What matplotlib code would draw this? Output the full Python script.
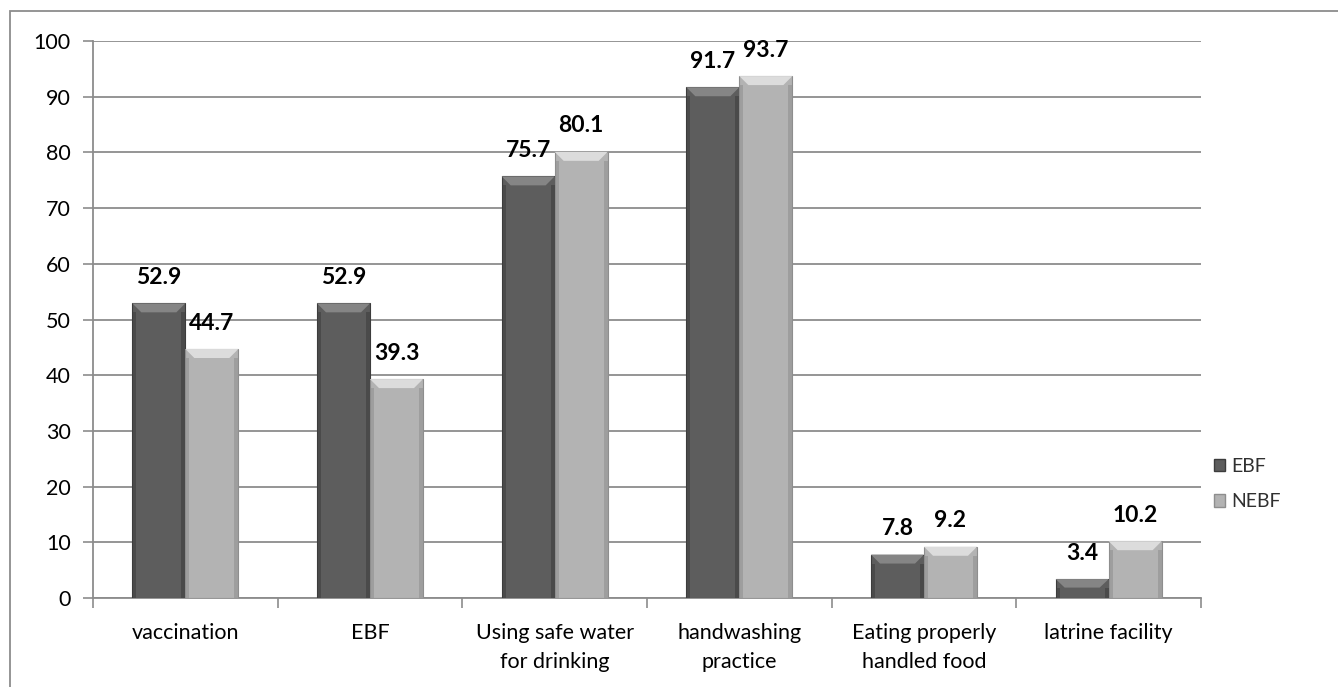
import matplotlib
matplotlib.use("Agg")
import matplotlib.pyplot as plt
from matplotlib.patches import Polygon, Rectangle, Patch
import numpy as np

plt.rcParams['font.family'] = ['Lato', 'DejaVu Sans']

categories = ["vaccination", "EBF", "Using safe water\nfor drinking",
              "handwashing\npractice", "Eating properly\nhandled food",
              "latrine facility"]
ebf = [52.9, 52.9, 75.7, 91.7, 7.8, 3.4]
nebf = [44.7, 39.3, 80.1, 93.7, 9.2, 10.2]
series_names = ["EBF", "NEBF"]
yticks = [0, 10, 20, 30, 40, 50, 60, 70, 80, 90, 100]

W, H = 1338, 687
fig = plt.figure(figsize=(W / 100, H / 100), dpi=100)
ax = fig.add_axes([93 / W, (H - 598) / H, 1108 / W, 557 / H])

# outer chart frame
fig.patches.append(Rectangle((10 / W, -0.05), 1.2, (H - 11) / H + 0.05,
                             transform=fig.transFigure, fill=False,
                             edgecolor="#8c8c8c", linewidth=1.3, zorder=0))

x = np.arange(len(categories))
bw = 0.287
styles = [
    dict(face="#5d5d5d", bevel="#858585", edge="#3c3c3c"),
    dict(face="#b3b3b3", bevel="#dcdcdc", edge="#8e8e8e"),
]

ax.set_xlim(-0.5, len(categories) - 0.5)
ax.set_ylim(0, 100)

px_x = (len(categories)) / 1108.0
px_y = 100 / 557.0

for vals, st, sign, name in [(ebf, styles[0], -1, series_names[0]),
                             (nebf, styles[1], 1, series_names[1])]:
    bars = ax.bar(x + sign * bw / 2, vals, width=bw, color=st["face"],
                  edgecolor=st["edge"], linewidth=0.8, zorder=3, label=name)
    for b, v in zip(bars, vals):
        x0, x1 = b.get_x(), b.get_x() + b.get_width()
        top = b.get_height()
        bvx = 9 * px_x
        bvy = min(9 * px_y, top * 0.45)
        # bevelled top face
        ax.add_patch(Polygon([(x0, top), (x1, top), (x1 - bvx, top - bvy),
                              (x0 + bvx, top - bvy)], closed=True,
                             facecolor=st["bevel"], edgecolor="none", zorder=4))
        # darker side strips
        sw = 4 * px_x
        ax.add_patch(Rectangle((x0, 0), sw, top - bvy, facecolor=st["edge"],
                               edgecolor="none", alpha=0.55, zorder=4))
        ax.add_patch(Rectangle((x1 - sw, 0), sw, top - bvy, facecolor=st["edge"],
                               edgecolor="none", alpha=0.55, zorder=4))
        ax.annotate(f"{v:.1f}", xy=(b.get_x() + b.get_width() / 2, top),
                    xytext=(0, 26), textcoords="offset pixels",
                    ha="center", va="center", fontsize=16.5, fontweight="bold",
                    color="#000000", zorder=5)

ax.set_yticks(yticks)
ax.tick_params(axis="y", length=7, width=1.2, color="#8c8c8c", labelsize=15.5,
               pad=9, labelcolor="#000000")
ax.set_xticks(np.arange(len(categories) + 1) - 0.5, minor=True)
ax.set_xticks(x)
ax.set_xticklabels(categories, fontsize=15.5, linespacing=1.55)
ax.tick_params(axis="x", which="major", length=0, pad=18)
ax.tick_params(axis="x", which="minor", length=7, width=1.2, color="#8c8c8c")

ax.grid(axis="y", color="#8c8c8c", linewidth=1.3, zorder=0)
ax.set_axisbelow(True)
for s in ["top", "right"]:
    ax.spines[s].set_visible(False)
for s in ["left", "bottom"]:
    ax.spines[s].set_color("#8c8c8c")
    ax.spines[s].set_linewidth(1.3)

handles = [Patch(facecolor=styles[0]["face"], edgecolor=styles[0]["edge"]),
           Patch(facecolor=styles[1]["face"], edgecolor=styles[1]["edge"])]
fig.legend(handles, series_names, loc="center left",
           bbox_to_anchor=(1196 / W, (H - 484) / H), frameon=False,
           fontsize=14, handlelength=0.6, handleheight=0.6,
           handletextpad=0.3, labelspacing=0.95, labelcolor="#303030")

fig.savefig("out.png", dpi=100)
